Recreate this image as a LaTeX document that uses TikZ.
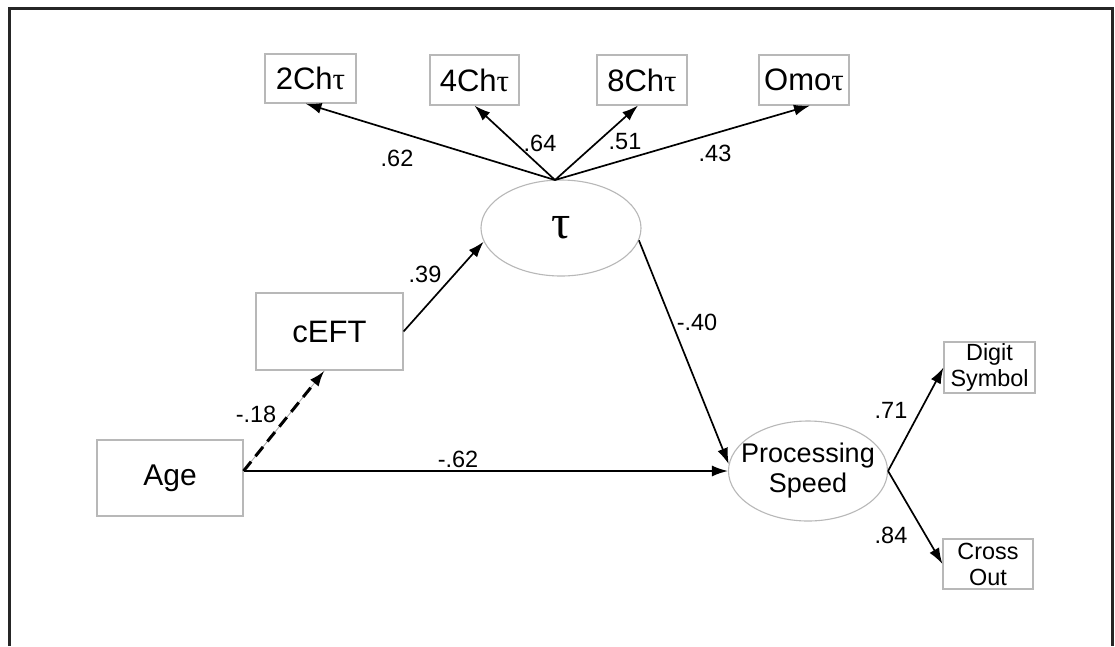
\documentclass[tikz,border=0pt]{standalone}
\usepackage{fontspec}
\setmainfont{Liberation Sans}
\newfontfamily\taufont{Liberation Serif}
\usetikzlibrary{arrows.meta,shapes.geometric,calc}

\begin{document}
\begin{tikzpicture}[x=1pt,y=-1pt,
  obs/.style={draw=black!28, line width=1.1pt, rectangle, inner sep=0pt, align=center},
  lat/.style={draw=black!28, line width=1.1pt, ellipse, inner sep=0pt, align=center},
  link/.style={draw=black, line width=1.7pt, -{Latex[length=16pt,width=11pt]}},
  coef/.style={font=\fontsize{23.5}{27}\selectfont, inner sep=0pt},
  big/.style={font=\fontsize{31}{36}\selectfont},
  small/.style={font=\fontsize{23.4}{26}\selectfont},
]
\useasboundingbox (0,0) rectangle (1115,646);
\fill[white] (0,0) rectangle (1115,646);
% open frame
\draw[line width=3pt, black!85] (9.5,646) -- (9.5,8.7) -- (1112,8.7) -- (1112,646);

% indicators of tau
\node[obs, big, minimum width=91pt, minimum height=49pt] (c2) at (310.5,78.5) {2Ch{\taufont τ}};
\node[obs, big, minimum width=89pt, minimum height=50pt] (c4) at (474.5,80) {4Ch{\taufont τ}};
\node[obs, big, minimum width=90pt, minimum height=50pt] (c8) at (642,80) {8Ch{\taufont τ}};
\node[obs, big, minimum width=90pt, minimum height=50pt] (omo) at (804,80) {Omo{\taufont τ}};

% latent variables (fixed-size ellipses, labels set on top)
\node[lat, minimum width=160pt, minimum height=96pt] (tau) at (561,228) {};
\node[font=\taufont\fontsize{48}{52}\selectfont, inner sep=0pt] (taulabel) at (tau.center) {τ};
\node[lat, minimum width=159pt, minimum height=100pt] (PS) at (808,471) {};
\node[font=\fontsize{27}{30}\selectfont, align=center, inner sep=0pt] (PSlabel) at (PS.center) {Processing\\Speed};

% observed predictors
\node[obs, big, minimum width=147pt, minimum height=77pt] (cEFT) at (329.5,331.5) {cEFT};
\node[obs, font=\fontsize{30}{34}\selectfont, minimum width=146pt, minimum height=76pt] (Age) at (170,478) {Age};

% indicators of processing speed
\node[obs, small, minimum width=91pt, minimum height=51pt] (Digit) at (989.5,367.5) {Digit\\Symbol};
\node[obs, small, minimum width=90pt, minimum height=50pt] (Cross) at (988,564) {Cross\\Out};

% loadings of tau
\coordinate (hub) at (555,180);
\draw[link] (hub) -- ($(c2.south)+(-5,0)$);
\draw[link] (hub) -- (c4.south);
\draw[link] (hub) -- ($(c8.south)+(-4,0)$);
\draw[link] (hub) -- ($(omo.south)+(6,0)$);

% structural paths
\draw[link] (cEFT.east) -- (tau.190);
\draw[link] (tau.351) -- (PS.175);
\coordinate (ageout) at (Age.east |- PS.west);
\draw[link] (ageout) -- (PS.west);
\draw[black!35, line width=0.8pt] (ageout) -- ($(cEFT.south)+(-5,0)$);
\draw[link, line width=3pt, dash pattern=on 12pt off 7pt] (ageout) -- ($(cEFT.south)+(-5,0)$);

% loadings of processing speed
\draw[link] (PS.east) -- (Digit.west);
\draw[link] (PS.east) -- (Cross.west);

% coefficients
\node[coef] (l62) at (397,158) {.62};
\node[coef] (l64) at (540,143) {.64};
\node[coef] (l51) at (625,142) {.51};
\node[coef] (l43) at (715,153) {.43};
\node[coef] (l39) at (425,274) {.39};
\node[coef] (l40) at (697,322) {-.40};
\node[coef] (l18) at (256,414) {-.18};
\node[coef] (l62b) at (458,459) {-.62};
\node[coef] (l71) at (891,410) {.71};
\node[coef] (l84) at (891,535) {.84};
\end{tikzpicture}
\end{document}
